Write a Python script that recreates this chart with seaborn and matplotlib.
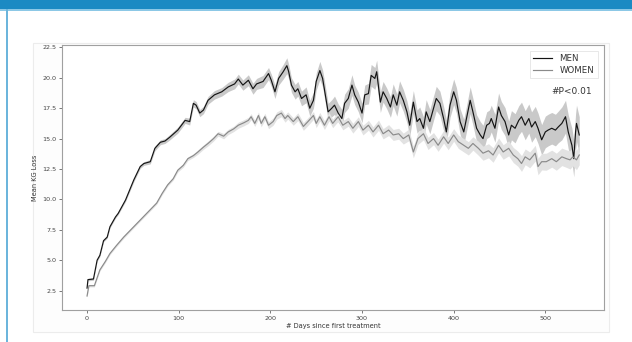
import matplotlib
matplotlib.use("Agg")
import matplotlib.pyplot as plt
from matplotlib.patches import Rectangle
import numpy as np
import pandas as pd
import seaborn as sns

# ---------------- data ----------------
men_days = [0, 1, 7, 11, 14, 18, 22, 25, 31, 34,
            42, 51, 58, 62, 69, 74, 80, 85, 90, 99,
            107, 112, 116, 119, 123, 127, 132, 139, 147, 154,
            161, 165, 170, 176, 181, 185, 192, 198, 201, 205,
            209, 214, 218, 220, 223, 227, 230, 234, 239, 243,
            247, 250, 254, 257, 260, 263, 267, 270, 274, 278,
            281, 285, 289, 292, 296, 300, 303, 307, 310, 314,
            316, 320, 323, 327, 331, 334, 338, 341, 345, 349,
            352, 356, 360, 363, 367, 370, 374, 378, 381, 385,
            389, 392, 396, 400, 403, 407, 411, 414, 418, 421,
            425, 429, 432, 436, 439, 441, 445, 449, 452, 456,
            460, 463, 467, 471, 474, 478, 482, 485, 489, 492,
            496, 500, 503, 507, 511, 514, 518, 522, 525, 529,
            531, 533, 534, 537]
men_kg = [2.7, 3.4, 3.45, 5.0, 5.4, 6.6, 6.9, 7.75, 8.55, 8.85,
          9.95, 11.6, 12.7, 12.95, 13.1, 14.2, 14.7, 14.8, 15.1, 15.7,
          16.5, 16.4, 17.9, 17.75, 17.1, 17.35, 18.15, 18.6, 18.85, 19.25,
          19.5, 19.9, 19.4, 19.8, 19.1, 19.5, 19.7, 20.35, 19.8, 18.85,
          19.95, 20.5, 21.0, 20.5, 19.4, 18.85, 19.1, 18.3, 18.6, 17.5,
          18.15, 19.7, 20.6, 19.95, 18.6, 17.2, 17.5, 17.75, 17.1, 16.65,
          17.9, 18.3, 19.4, 18.6, 18.0, 17.1, 18.6, 18.7, 20.2, 19.95,
          20.5, 18.0, 18.85, 18.3, 17.6, 18.6, 17.75, 18.85, 18.15, 17.2,
          16.1, 18.0, 16.4, 16.65, 15.85, 17.2, 16.4, 17.5, 18.3, 17.9,
          16.65, 15.55, 17.75, 18.85, 18.15, 16.4, 15.55, 16.65, 18.15, 17.2,
          15.85, 15.3, 15.0, 16.1, 16.25, 16.65, 15.85, 17.6, 16.9, 16.4,
          15.3, 16.1, 15.85, 16.5, 16.8, 16.1, 16.65, 15.95, 16.4, 15.85,
          14.9, 15.55, 15.7, 15.85, 15.7, 15.95, 16.25, 16.8, 15.55, 14.45,
          13.35, 15.55, 16.25, 15.3]
men_ci = [0.15, 0.1, 0.1, 0.1, 0.1, 0.1, 0.1, 0.1, 0.1, 0.1,
          0.12, 0.15, 0.15, 0.15, 0.18, 0.2, 0.2, 0.2, 0.22, 0.25,
          0.25, 0.28, 0.3, 0.3, 0.3, 0.3, 0.32, 0.35, 0.35, 0.38,
          0.4, 0.4, 0.42, 0.45, 0.45, 0.45, 0.5, 0.5, 0.5, 0.55,
          0.55, 0.6, 0.65, 0.6, 0.6, 0.6, 0.6, 0.6, 0.65, 0.65,
          0.65, 0.7, 0.75, 0.7, 0.7, 0.7, 0.7, 0.75, 0.75, 0.75,
          0.75, 0.8, 0.85, 0.8, 0.8, 0.8, 0.8, 0.85, 0.9, 0.9,
          0.95, 0.85, 0.85, 0.85, 0.85, 0.9, 0.9, 0.9, 0.9, 0.9,
          0.95, 0.95, 0.95, 0.95, 0.95, 1.0, 1.0, 1.0, 1.0, 1.0,
          1.0, 1.0, 1.0, 1.05, 1.05, 1.05, 1.05, 1.05, 1.1, 1.1,
          1.1, 1.1, 1.1, 1.1, 1.1, 1.1, 1.15, 1.15, 1.15, 1.15,
          1.15, 1.2, 1.2, 1.2, 1.2, 1.2, 1.2, 1.25, 1.25, 1.25,
          1.25, 1.3, 1.3, 1.3, 1.3, 1.3, 1.35, 1.35, 1.4, 1.4,
          1.5, 1.5, 1.5, 1.5]

women_days = [0, 2, 8, 14, 20, 25, 32, 40, 49, 58,
              67, 76, 82, 88, 94, 99, 105, 110, 116, 121,
              127, 132, 138, 143, 149, 154, 160, 165, 171, 176,
              179, 183, 187, 190, 194, 198, 203, 207, 212, 216,
              219, 225, 230, 236, 241, 247, 250, 254, 259, 264,
              268, 274, 279, 285, 290, 296, 301, 307, 312, 318,
              323, 329, 334, 340, 345, 351, 356, 361, 367, 372,
              378, 383, 389, 394, 400, 405, 411, 416, 421, 427,
              432, 438, 443, 449, 454, 460, 465, 470, 474, 478,
              483, 489, 492, 496, 501, 507, 512, 518, 523, 527,
              530, 534, 537]
women_kg = [2.05, 2.9, 2.9, 4.2, 4.9, 5.55, 6.2, 6.9, 7.6, 8.3,
            9.0, 9.7, 10.5, 11.2, 11.7, 12.4, 12.8, 13.35, 13.6, 13.9,
            14.3, 14.6, 15.0, 15.4, 15.2, 15.55, 15.8, 16.1, 16.3, 16.5,
            16.8, 16.25, 16.9, 16.25, 16.8, 16.1, 16.4, 16.9, 17.1, 16.65,
            16.9, 16.4, 16.8, 16.0, 16.4, 16.9, 16.25, 16.8, 16.1, 16.8,
            16.25, 16.8, 16.1, 16.4, 15.85, 16.4, 15.7, 16.1, 15.55, 16.1,
            15.4, 15.7, 15.3, 15.4, 15.0, 15.3, 13.9, 15.0, 15.4, 14.6,
            15.0, 14.45, 15.15, 14.6, 15.3, 14.75, 14.45, 14.2, 14.6, 14.2,
            13.8, 14.0, 13.65, 14.45, 13.9, 14.2, 13.65, 13.35, 12.95, 13.5,
            13.25, 13.8, 12.7, 13.1, 13.1, 13.35, 13.1, 13.5, 13.35, 13.25,
            13.5, 13.25, 13.65]
women_ci = [0.1, 0.1, 0.1, 0.1, 0.1, 0.1, 0.1, 0.1, 0.1, 0.1,
            0.1, 0.1, 0.12, 0.12, 0.12, 0.15, 0.15, 0.15, 0.15, 0.18,
            0.18, 0.2, 0.2, 0.2, 0.22, 0.22, 0.22, 0.25, 0.25, 0.25,
            0.25, 0.25, 0.28, 0.28, 0.28, 0.28, 0.3, 0.3, 0.3, 0.3,
            0.3, 0.3, 0.32, 0.32, 0.32, 0.32, 0.35, 0.35, 0.35, 0.35,
            0.35, 0.38, 0.38, 0.38, 0.4, 0.4, 0.4, 0.4, 0.42, 0.42,
            0.42, 0.45, 0.45, 0.45, 0.45, 0.48, 0.48, 0.48, 0.5, 0.5,
            0.5, 0.5, 0.52, 0.52, 0.52, 0.55, 0.55, 0.55, 0.55, 0.58,
            0.58, 0.58, 0.6, 0.6, 0.6, 0.62, 0.62, 0.62, 0.65, 0.65,
            0.65, 0.65, 0.68, 0.68, 0.7, 0.7, 0.7, 0.72, 0.72, 0.75,
            0.75, 0.8, 0.8]

groups = ["MEN", "WOMEN"]
colors = {"MEN": "#141414", "WOMEN": "#8a8a8a"}
band_colors = {"MEN": "#c9c9c9", "WOMEN": "#e2e2e2"}
x_ticks = [0, 100, 200, 300, 400, 500]
y_ticks = [2.5, 5.0, 7.5, 10.0, 12.5, 15.0, 17.5, 20.0, 22.5]

df = pd.concat([
    pd.DataFrame({"day": men_days, "kg": men_kg, "ci": men_ci, "sex": "MEN"}),
    pd.DataFrame({"day": women_days, "kg": women_kg, "ci": women_ci, "sex": "WOMEN"}),
], ignore_index=True)

# ---------------- figure ----------------
W, H = 632, 342
fig = plt.figure(figsize=(W / 100, H / 100), dpi=100, facecolor="white")

def fx(px):
    return px / W

def fy(py):
    return 1 - py / H

# page decorations (web frame), drawn below the axes
deco = [
    Rectangle((0, fy(9)), 1, 9 / H, facecolor="#1b8ac3", edgecolor="none"),
    Rectangle((0, fy(10.5)), 1, 1.5 / H, facecolor="#8cc8e6", edgecolor="none"),
    Rectangle((fx(5.5), 0), 2 / W, fy(9), facecolor="#6cb5dc", edgecolor="none"),
    Rectangle((fx(33), fy(332)), (609 - 33) / W, (332 - 43) / H,
              facecolor="#fdfdfd", edgecolor="#ececec", linewidth=0.8),
]
for p in deco:
    p.set_transform(fig.transFigure)
    p.set_zorder(-10)
    fig.patches.append(p)

ax = fig.add_axes([fx(62.3), fy(310), (604 - 62.3) / W, (310 - 45) / H])
ax.set_zorder(5)
ax.set_facecolor("white")

for g in groups:
    sub = df[df["sex"] == g]
    ax.fill_between(sub["day"], sub["kg"] - sub["ci"], sub["kg"] + sub["ci"],
                    color=band_colors[g], linewidth=0, zorder=1)

sns.lineplot(data=df, x="day", y="kg", hue="sex", hue_order=groups,
             palette=colors, errorbar=None, linewidth=0.85, ax=ax, zorder=3)

ax.set_xlim(-27, 564)
ax.set_ylim(0.9, 22.7)
ax.set_xticks(x_ticks)
ax.set_yticks(y_ticks)
ax.set_xticklabels([str(t) for t in x_ticks])
ax.set_yticklabels([f"{t:.1f}" for t in y_ticks])
ax.tick_params(labelsize=4.6, colors="#444444", length=2.2, width=0.5, pad=2)
for s in ax.spines.values():
    s.set_color("#a0a0a0")
    s.set_linewidth(0.8)

ax.set_xlabel("# Days since first treatment", fontsize=4.8, color="#333333", labelpad=1.5)
ax.set_ylabel("Mean KG Loss", fontsize=4.8, color="#333333", labelpad=3)

leg = ax.legend(loc="upper right", fontsize=6.2, frameon=True, fancybox=False,
                handlelength=2.2, borderpad=0.4, labelspacing=0.3,
                bbox_to_anchor=(0.996, 0.995))
leg.get_frame().set_edgecolor("#dddddd")
leg.get_frame().set_linewidth(0.6)
for t in leg.get_texts():
    t.set_color("#333333")

ax.text(0.978, 0.826, "#P<0.01", transform=ax.transAxes, ha="right", va="center",
        fontsize=6.5, color="#333333")

fig.savefig("out.png", dpi=100, facecolor="white")
